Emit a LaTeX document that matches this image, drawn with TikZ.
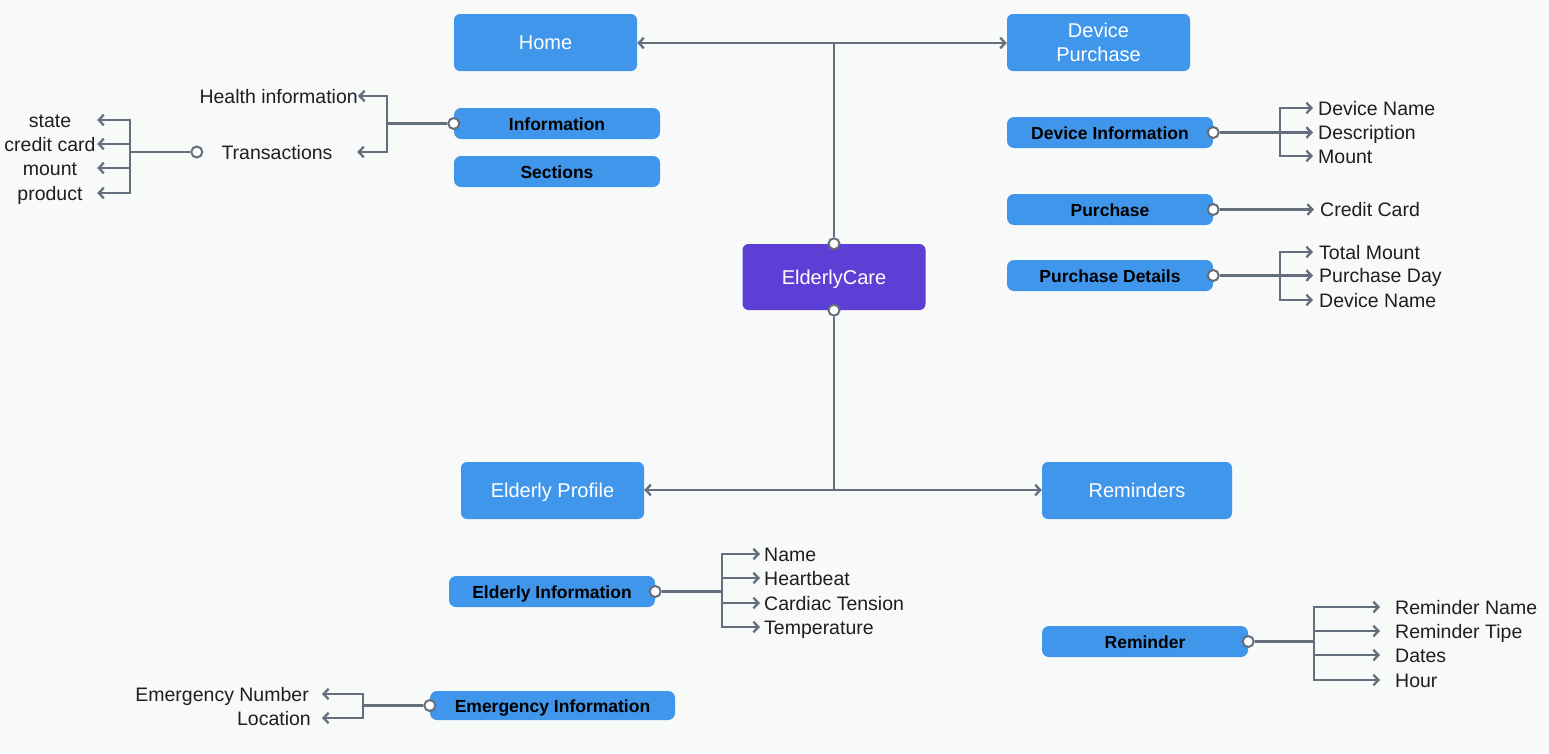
\documentclass[tikz,border=0pt]{standalone}
\usepackage{fontspec}
\setmainfont{Liberation Sans}
\usetikzlibrary{arrows.meta}
\definecolor{bg}{RGB}{248,249,249}
\definecolor{boxblue}{RGB}{64,150,234}
\definecolor{purp}{RGB}{94,63,214}
\definecolor{lineg}{RGB}{100,110,125}
\definecolor{txt}{RGB}{30,30,30}
\begin{document}
\begin{tikzpicture}[x=1pt,y=-1pt,
  bigbox/.style={fill=boxblue, rounded corners=6pt, minimum width=183pt, minimum height=57pt, inner sep=0pt, text=white, font=\fontsize{20}{24}\selectfont},
  onel/.style={text height=14.5pt, text depth=0pt},
  smallbox/.style={fill=boxblue, rounded corners=7pt, minimum width=206pt, minimum height=31pt, inner sep=0pt, text=black, font=\fontsize{17.5}{20}\selectfont\bfseries, text height=14pt, text depth=0pt},
  port/.style={circle, draw=lineg, fill=white, line width=2pt, minimum size=11pt, inner sep=0pt},
  lab/.style={font=\fontsize{19.5}{23}\selectfont, text=txt, inner sep=0pt, text height=17pt, text depth=3pt},
  conn/.style={draw=lineg, line width=2.3pt},
  arr/.style={conn, -{Straight Barb[length=5pt,width=10.5pt,line width=2.3pt]}}
]
\useasboundingbox (0,0) rectangle (1549,753);
\fill[bg] (0,0) rectangle (1549,753);

% main boxes
\node[bigbox, onel] (home) at (545.5,42.5) {Home};
\node[bigbox, align=center] (dp) at (1098.5,42.5) {Device\\Purchase};
\node[bigbox, onel, fill=purp, minimum height=66pt] (ec) at (834,277) {ElderlyCare};
\node[bigbox, onel] (ep) at (552.5,490.5) {Elderly Profile};
\node[bigbox, onel, minimum width=190pt] (rem) at (1137,490.5) {Reminders};

% central ports and junctions
\coordinate (jt) at (834,43);
\coordinate (jb) at (834,490);
\node[port] (pt) at (ec.north) {};
\node[port] (pb) at (ec.south) {};
\draw[conn] (pt) -- (jt);
\draw[arr] (jt) -- (home.east |- jt);
\draw[arr] (jt) -- (dp.west |- jt);
\draw[conn] (pb) -- (jb);
\draw[arr] (jb) -- (ep.east |- jb);
\draw[arr] (jb) -- (rem.west |- jb);

% Home subtree
\node[smallbox] (info) at (557,123.5) {Information};
\node[smallbox] (sec) at (557,171.5) {Sections};
\node[port] (pinfo) at (info.west) {};
\coordinate (j1) at (387,123.5);
\node[lab, anchor=east] (health) at (358,96) {Health information};
\node[lab, minimum width=160pt] (trans) at (277,152) {Transactions};
\draw[conn] (pinfo) -- (j1);
\draw[arr] (j1) |- (health.east);
\draw[arr] (j1) |- (trans.east);
\node[port] (ptrans) at (trans.west) {};
\coordinate (j2) at (130,152);
\node[lab, minimum width=94pt] (s1) at (50,120) {state};
\node[lab, minimum width=94pt] (s2) at (50,144) {credit card};
\node[lab, minimum width=94pt] (s3) at (50,168) {mount};
\node[lab, minimum width=94pt] (s4) at (50,193) {product};
\draw[conn] (ptrans) -- (j2);
\foreach \n in {s1,s2,s3,s4} \draw[arr] (j2) |- (\n.east);

% Device Purchase subtree
\node[smallbox] (di) at (1110,132.5) {Device Information};
\node[port] (pdi) at (di.east) {};
\coordinate (j3) at (1280,132.5);
\node[lab, anchor=west, inner xsep=5pt] (d1) at (1313,108) {Device Name};
\node[lab, anchor=west, inner xsep=5pt] (d2) at (1313,132.5) {Description};
\node[lab, anchor=west, inner xsep=5pt] (d3) at (1313,156) {Mount};
\draw[conn] (pdi) -- (j3);
\foreach \n in {d1,d2,d3} \draw[arr] (j3) |- (\n.west);

\node[smallbox] (pu) at (1110,209.5) {Purchase};
\node[port] (ppu) at (pu.east) {};
\node[lab, anchor=west, inner xsep=6pt] (cc) at (1314,209.5) {Credit Card};
\draw[arr] (ppu) -- (cc.west);

\node[smallbox] (pd) at (1110,275.5) {Purchase Details};
\node[port] (ppd) at (pd.east) {};
\coordinate (j4) at (1280,275.5);
\node[lab, anchor=west, inner xsep=6pt] (e1) at (1313,252) {Total Mount};
\node[lab, anchor=west, inner xsep=6pt] (e2) at (1313,275.5) {Purchase Day};
\node[lab, anchor=west, inner xsep=6pt] (e3) at (1313,300) {Device Name};
\draw[conn] (ppd) -- (j4);
\foreach \n in {e1,e2,e3} \draw[arr] (j4) |- (\n.west);

% Elderly Profile subtree
\node[smallbox] (ei) at (552,591.5) {Elderly Information};
\node[port] (pei) at (ei.east) {};
\coordinate (j5) at (722,591.5);
\node[lab, anchor=west, inner xsep=4pt] (f1) at (760,554) {Name};
\node[lab, anchor=west, inner xsep=4pt] (f2) at (760,578) {Heartbeat};
\node[lab, anchor=west, inner xsep=4pt] (f3) at (760,603) {Cardiac Tension};
\node[lab, anchor=west, inner xsep=4pt] (f4) at (760,627) {Temperature};
\draw[conn] (pei) -- (j5);
\foreach \n in {f1,f2,f3,f4} \draw[arr] (j5) |- (\n.west);

\node[smallbox, minimum width=245pt, minimum height=29pt] (emi) at (552.5,705.5) {Emergency Information};
\node[port] (pemi) at (emi.west) {};
\coordinate (j6) at (363,705.5);
\node[lab, anchor=east, inner xsep=13pt] (g1) at (322,694) {Emergency Number};
\node[lab, anchor=east, inner xsep=11pt] (g2) at (322,718) {Location};
\draw[conn] (pemi) -- (j6);
\foreach \n in {g1,g2} \draw[arr] (j6) |- (\n.east);

% Reminders subtree
\node[smallbox] (rm) at (1145,641.5) {Reminder};
\node[port] (prm) at (rm.east) {};
\coordinate (j7) at (1314,641.5);
\node[lab, anchor=west, inner xsep=15pt] (h1) at (1380,607) {Reminder Name};
\node[lab, anchor=west, inner xsep=15pt] (h2) at (1380,631) {Reminder Tipe};
\node[lab, anchor=west, inner xsep=15pt] (h3) at (1380,655) {Dates};
\node[lab, anchor=west, inner xsep=15pt] (h4) at (1380,680) {Hour};
\draw[conn] (prm) -- (j7);
\foreach \n in {h1,h2,h3,h4} \draw[arr] (j7) |- (\n.west);
\end{tikzpicture}
\end{document}
